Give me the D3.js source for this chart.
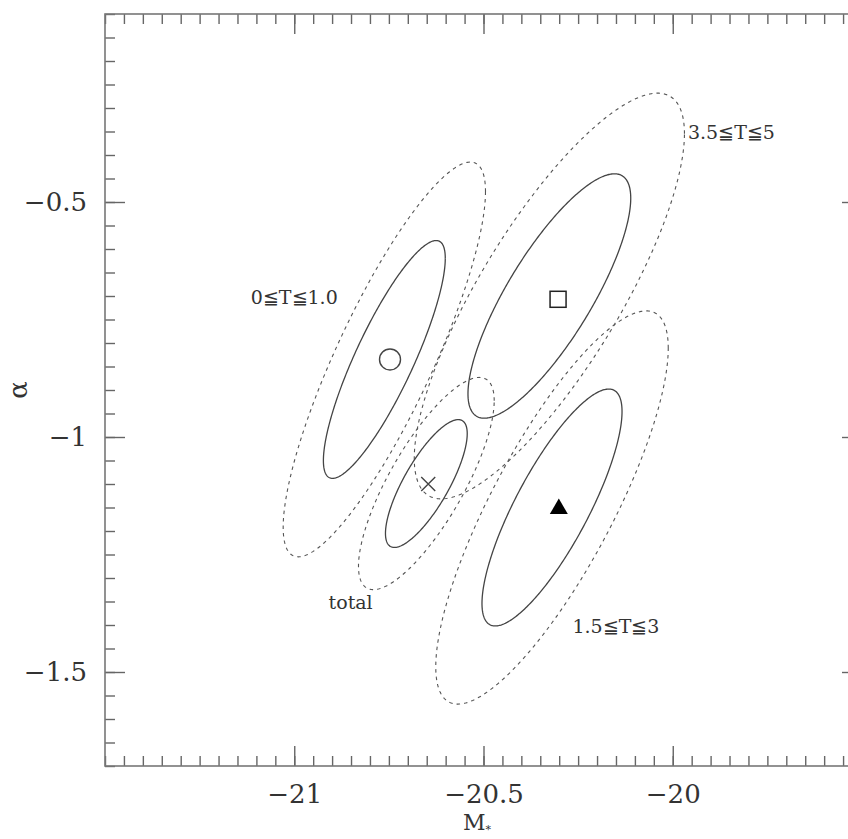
<!DOCTYPE html>
<html>
<head>
<meta charset="utf-8">
<script src="https://cdn.jsdelivr.net/npm/d3@7"></script>
<style>
  body { margin: 0; background: #fff; }
  text { font-family: "DejaVu Serif", serif; fill: #333; }
</style>
</head>
<body>
<div id="chart"></div>
<script>
// best-fit points per morphological type
var groups = ['0≦T≦1.0', '1.5≦T≦3', '3.5≦T≦5', 'total'];
var bestM = [-20.747, -20.301, -20.303, -20.646];
var bestAlpha = [-0.835, -1.148, -0.707, -1.100];
var markerShape = ['circle', 'triangle', 'square', 'cross'];

// error contours: centre, half extent of the inner contour, correlation
var ellM = [-20.762, -20.319, -20.326, -20.651];
var ellAlpha = [-0.835, -1.150, -0.700, -1.099];
var halfM = [0.161, 0.185, 0.215, 0.108];
var halfAlpha = [0.253, 0.252, 0.260, 0.136];
var rho = [0.85, 0.81, 0.80, 0.78];
var levels = [1, 1.66];   // inner (solid) and outer (dashed) contour

// where the group names sit
var labelM = [-21.0, -20.15, -19.845, -20.851];
var labelAlpha = [-0.703, -1.403, -0.352, -1.352];

var xTicks = [-21, -20.5, -20];
var yTicks = [-1.5, -1, -0.5];

var width = 848, height = 839;
var margin = {top: 14, left: 105};
var plotW = 757, plotH = 752;

var x = d3.scaleLinear().domain([-21.5, -19.5]).range([0, plotW]);
var y = d3.scaleLinear().domain([-1.7, -0.1]).range([plotH, 0]);

function drawChart() {
  var svg = d3.select('#chart').append('svg')
      .attr('width', width)
      .attr('height', height);

  var g = svg.append('g')
      .attr('transform', `translate(${margin.left}, ${margin.top})`);

  var xMinor = d3.range(0, 41).map(i => -21.5 + i * 0.05);
  var yMinor = d3.range(0, 33).map(i => -1.7 + i * 0.05);

  function styleAxis(sel) {
    sel.select('.domain').remove();
    sel.selectAll('line').attr('stroke', '#666').attr('stroke-width', 1.4);
    sel.selectAll('text').style('font-size', '26px').attr('fill', '#333');
  }

  // minor ticks on all four sides
  g.append('g').attr('transform', `translate(0, ${plotH})`)
    .call(d3.axisBottom(x).tickValues(xMinor).tickSize(-10).tickFormat(''))
    .call(styleAxis);
  g.append('g')
    .call(d3.axisTop(x).tickValues(xMinor).tickSize(-10).tickFormat(''))
    .call(styleAxis);
  g.append('g')
    .call(d3.axisLeft(y).tickValues(yMinor).tickSize(-10).tickFormat(''))
    .call(styleAxis);
  g.append('g').attr('transform', `translate(${plotW}, 0)`)
    .call(d3.axisRight(y).tickValues(yMinor).tickSize(-10).tickFormat(''))
    .call(styleAxis);

  // major ticks with labels
  g.append('g').attr('transform', `translate(0, ${plotH})`)
    .call(d3.axisBottom(x).tickValues(xTicks).tickSize(-20).tickPadding(19).tickFormat(d3.format('')))
    .call(styleAxis);
  g.append('g')
    .call(d3.axisTop(x).tickValues(xTicks).tickSize(-20).tickFormat(''))
    .call(styleAxis);
  g.append('g')
    .call(d3.axisLeft(y).tickValues(yTicks).tickSize(-20).tickPadding(18).tickFormat(d3.format('')))
    .call(styleAxis);
  g.append('g').attr('transform', `translate(${plotW}, 0)`)
    .call(d3.axisRight(y).tickValues(yTicks).tickSize(-20).tickFormat(''))
    .call(styleAxis);

  g.append('rect')
    .attr('width', plotW)
    .attr('height', plotH)
    .attr('fill', 'none')
    .attr('stroke', '#777')
    .attr('stroke-width', 1.6);

  // contours
  var line = d3.line().x(d => x(d[0])).y(d => y(d[1]));
  var angles = d3.range(0, 361).map(a => a * Math.PI / 180);

  groups.forEach(function(name, i) {
    levels.forEach(function(k, j) {
      var pts = angles.map(t => [
        ellM[i] + k * halfM[i] * Math.cos(t),
        ellAlpha[i] + k * halfAlpha[i] * (rho[i] * Math.cos(t) + Math.sqrt(1 - rho[i] * rho[i]) * Math.sin(t))
      ]);
      g.append('path')
        .attr('d', line(pts))
        .attr('fill', 'none')
        .attr('stroke', j === 0 ? '#444' : '#555')
        .attr('stroke-width', j === 0 ? 1.3 : 1.1)
        .attr('stroke-dasharray', j === 0 ? null : '3.5,4');
    });
  });

  // markers
  groups.forEach(function(name, i) {
    var cx = x(bestM[i]), cy = y(bestAlpha[i]);
    var shape = markerShape[i];
    if (shape === 'circle') {
      g.append('circle').attr('cx', cx).attr('cy', cy).attr('r', 10.5)
        .attr('fill', 'none').attr('stroke', '#444').attr('stroke-width', 1.4);
    } else if (shape === 'square') {
      g.append('rect').attr('x', cx - 8).attr('y', cy - 8).attr('width', 16).attr('height', 16)
        .attr('fill', 'none').attr('stroke', '#222').attr('stroke-width', 1.5);
    } else if (shape === 'triangle') {
      g.append('path')
        .attr('d', `M${cx - 9},${cy + 7.5}L${cx + 9},${cy + 7.5}L${cx},${cy - 8}Z`)
        .attr('fill', '#000');
    } else {
      g.append('path')
        .attr('d', `M${cx - 7},${cy - 7}L${cx + 7},${cy + 7}M${cx - 7},${cy + 7}L${cx + 7},${cy - 7}`)
        .attr('stroke', '#444').attr('stroke-width', 1.4);
    }
  });

  // group labels
  g.selectAll('.glabel')
    .data(groups)
    .join('text')
      .attr('class', 'glabel')
      .attr('x', (d, i) => x(labelM[i]))
      .attr('y', (d, i) => y(labelAlpha[i]))
      .attr('dy', '0.36em')
      .attr('text-anchor', 'middle')
      .style('font-size', '19px')
      .text(d => d);

  // axis titles
  var xt = svg.append('text')
      .attr('x', 477)
      .attr('y', 830)
      .attr('text-anchor', 'middle')
      .style('font-size', '22px');
  xt.append('tspan').text('M');
  xt.append('tspan').attr('dy', 3).style('font-size', '11px').text('*');

  svg.append('text')
      .attr('transform', 'translate(27, 390) rotate(-90)')
      .attr('text-anchor', 'middle')
      .style('font-size', '26px')
      .text('α');
}

window.onload = drawChart;
</script>
</body>
</html>
